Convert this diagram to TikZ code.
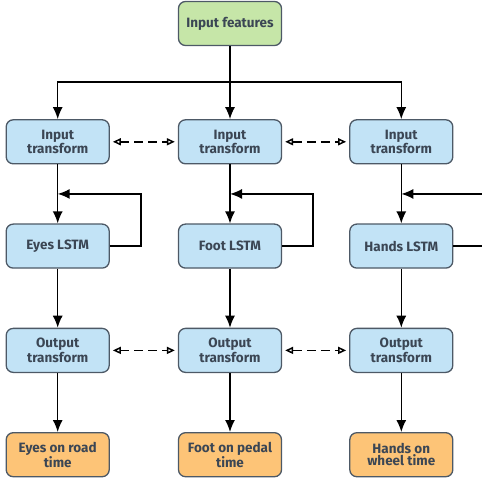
\documentclass[tikz,border=0pt]{standalone}
\usepackage{fontspec}
\setmainfont{Fira Sans}
\usetikzlibrary{positioning, calc, arrows.meta}
\definecolor{txt}{HTML}{3B4654}
\definecolor{edge}{HTML}{4D5966}
\definecolor{featfill}{HTML}{C6E6A8}
\definecolor{stepfill}{HTML}{C2E3F6}
\definecolor{outfill}{HTML}{FDC477}
\tikzset{blk/.style={draw=edge, line width=1.3pt, rounded corners=7pt, minimum width=103pt, minimum height=44pt, align=center, text=txt, inner sep=1pt, font=\bfseries\fontsize{13.5}{12.5}\selectfont},
 featbox/.style={blk, fill=featfill},
 stepbox/.style={blk, fill=stepfill},
 outbox/.style={blk, fill=outfill},
 link/.style={{Triangle[open,length=8pt,width=7pt]}-{Triangle[open,length=8pt,width=7pt]}, dash pattern=on 9pt off 5pt, shorten <=3pt, shorten >=3pt}
}

\begin{document}
\begin{tikzpicture}[x=1pt, y=1pt, line width=1.5pt, >={Latex[length=12pt,width=10pt]}]
 \useasboundingbox (0,0) rectangle (482,-478);
 % middle column
 \node[featbox] (feat) at (230,-23.5) {Input features};
 \node[stepbox, below=73pt of feat] (inF) {Input\\transform};
 \node[stepbox, below=59pt of inF] (lstmF) {Foot LSTM};
 \node[stepbox, below=59pt of lstmF] (outF) {Output\\transform};
 \node[outbox, below=59pt of outF] (resF) {Foot on pedal\\time};
 % left column
 \node[stepbox, left=68pt of inF] (inE) {Input\\transform};
 \node[stepbox, left=68pt of lstmF] (lstmE) {Eyes LSTM};
 \node[stepbox, left=68pt of outF] (outE) {Output\\transform};
 \node[outbox, left=68pt of resF] (resE) {Eyes on road\\time};
 % right column
 \node[stepbox, right=67pt of inF] (inH) {Input\\transform};
 \node[stepbox, right=67pt of lstmF] (lstmH) {Hands LSTM};
 \node[stepbox, right=67pt of outF] (outH) {Output\\transform};
 \node[outbox, right=67pt of resF] (resH) {Hands on\\wheel time};

 \coordinate[below=36pt of feat.south] (split);
 \draw[->] (feat) -- (inF);
 \draw[->] (split) -| (inE);
 \draw[->] (split) -| (inH);

 \foreach \c in {E,F,H} {
  \coordinate (j\c) at ($(in\c.south)!.5!(lstm\c.north)$);
  \draw[->] (in\c) -- (lstm\c);
  \draw[->] (lstm\c.east) -- ++(31,0) |- (j\c);
  \draw[->] (lstm\c) -- (out\c);
  \draw[->] (out\c) -- (res\c);
 }

 \draw[link] (inE) -- (inF);
 \draw[link] (inF) -- (inH);
 \draw[link] (outE) -- (outF);
 \draw[link] (outF) -- (outH);
\end{tikzpicture}
\end{document}
